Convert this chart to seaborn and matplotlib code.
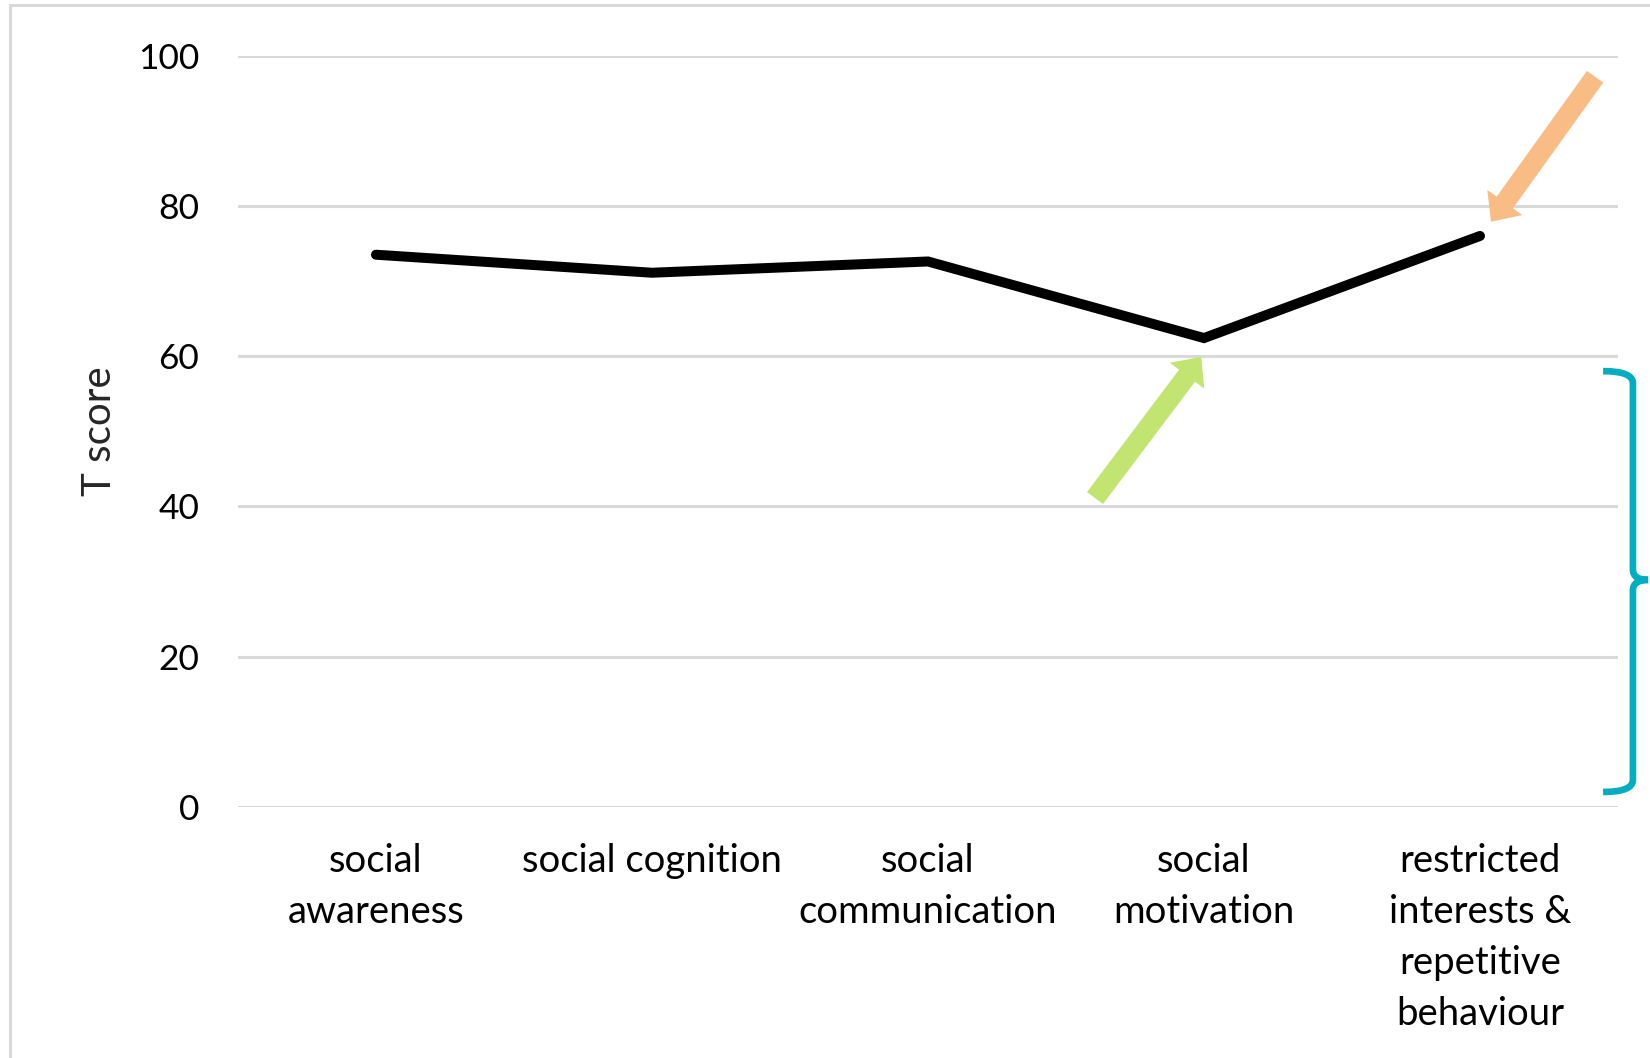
import matplotlib
matplotlib.use("Agg")
import matplotlib.pyplot as plt
from matplotlib.patches import Rectangle, PathPatch
from matplotlib.path import Path
import seaborn as sns
import pandas as pd

# Domain T scores
categories = [
    "social\nawareness",
    "social cognition",
    "social\ncommunication",
    "social\nmotivation",
    "restricted\ninterests &\nrepetitive\nbehaviour",
]
t_scores = [73.5, 71.1, 72.6, 62.4, 76.0]
y_ticks = [0, 20, 40, 60, 80, 100]

df = pd.DataFrame({"domain": categories, "t": t_scores})

sns.set_theme(style="white")
plt.rcParams["font.family"] = ["Lato", "DejaVu Sans"]

W, H = 1650, 1058
fig = plt.figure(figsize=(W / 100, H / 100), dpi=100)
ax = fig.add_axes([238 / W, 1 - 806.7 / H, (1618 - 238) / W, (806.7 - 55.7) / H])

sns.lineplot(data=df, x="domain", y="t", sort=False, color="black",
             linewidth=7.2, ax=ax, solid_capstyle="round", solid_joinstyle="miter")

ax.set_xlim(-0.5, len(categories) - 0.5)
ax.set_ylim(0, 100)
ax.set_yticks(y_ticks)
ax.set_yticklabels([str(v) for v in y_ticks], fontsize=25.5)
ax.set_xticks(range(len(categories)))
ax.set_xticklabels(categories, fontsize=27.5, linespacing=1.52)
ax.tick_params(axis="both", length=0, colors="black")
ax.tick_params(axis="y", pad=28)
ax.tick_params(axis="x", pad=26)
ax.set_xlabel("")
ax.set_ylabel("T score", fontsize=29, labelpad=14)
ax.grid(axis="y", color="#D9D9D9", linewidth=2.2)
ax.set_axisbelow(True)
for s in ax.spines.values():
    s.set_visible(False)

# Highlight arrows
ax.annotate("", xy=(4.04, 77.9), xytext=(4.417, 97.2),
            arrowprops=dict(arrowstyle="simple,head_length=0.85,head_width=1.55,tail_width=0.72",
                            mutation_scale=20, color="#F8BC84", lw=0,
                            shrinkA=0, shrinkB=0),
            annotation_clip=False)
ax.annotate("", xy=(2.99, 59.9), xytext=(2.605, 41.1),
            arrowprops=dict(arrowstyle="simple,head_length=0.85,head_width=1.55,tail_width=0.72",
                            mutation_scale=20, color="#C1E570", lw=0,
                            shrinkA=0, shrinkB=0),
            annotation_clip=False)

# Curly brace spanning the lower range
xa, xb, xc = 4.446, 4.554, 4.609
y_top, y_mid, y_bot = 58.0, 30.2, 1.96
verts = [
    (xa, y_top), (xb, y_top), (xb, y_top - 1.6),
    (xb, y_mid + 1.4),
    (xb, y_mid), (xc, y_mid),
    (xb, y_mid), (xb, y_mid - 1.4),
    (xb, y_bot + 1.6),
    (xb, y_bot), (xa, y_bot),
]
codes = [Path.MOVETO, Path.CURVE3, Path.CURVE3, Path.LINETO,
         Path.CURVE3, Path.CURVE3, Path.CURVE3, Path.CURVE3,
         Path.LINETO, Path.CURVE3, Path.CURVE3]
brace = PathPatch(Path(verts, codes), facecolor="none", edgecolor="#00AEC0",
                  linewidth=4.8, transform=ax.transData, clip_on=False,
                  joinstyle="miter")
ax.add_patch(brace)

# Light frame around the chart
fig.patches.append(Rectangle((10 / W, -0.1), 2.0, 1 - 5 / H + 0.1,
                             transform=fig.transFigure, fill=False,
                             edgecolor="#D9D9D9", linewidth=2.2))

fig.savefig("out.png", dpi=100)
